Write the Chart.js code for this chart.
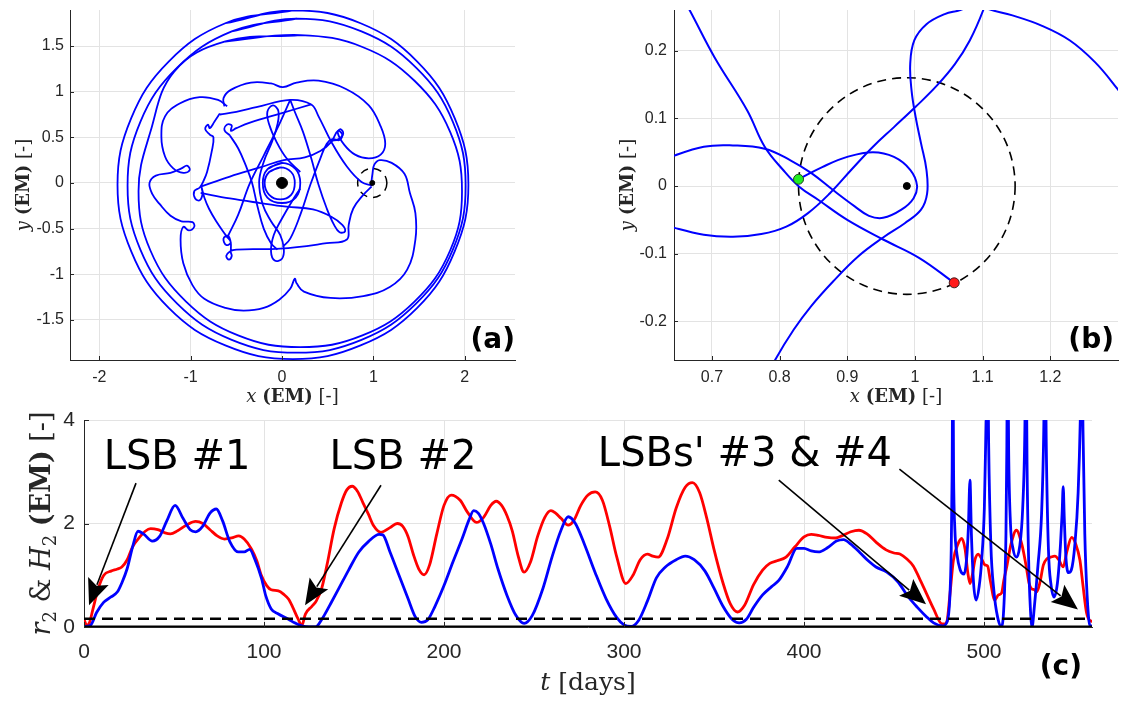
<!DOCTYPE html>
<html>
<head>
<meta charset="utf-8">
<script src="https://cdn.jsdelivr.net/npm/chart.js@4.4.0/dist/chart.umd.min.js"></script>
<style>
  html, body { margin: 0; padding: 0; background: #fff; }
  body { width: 1125px; height: 702px; position: relative; overflow: hidden; }
  canvas { position: absolute; }
  #orbit { left: 0; top: 0; }
  #zoomed { left: 560px; top: 0; }
  #dist { left: 0; top: 400px; }
</style>
</head>
<body>
<canvas id="orbit" width="560" height="410"></canvas>
<canvas id="zoomed" width="565" height="410"></canvas>
<canvas id="dist" width="1125" height="302"></canvas>
<script>
// ---- shared values ----
const moonPos = [0.988, 0];
const earthPos = [0, 0];
const zoneRadius = 0.16;

// ---- (a) trajectory in the Earth-Moon frame, [x, y] ----
const orbitTicksX = [-2, -1, 0, 1, 2];
const orbitTicksY = [-1.5, -1, -0.5, 0, 0.5, 1, 1.5];

const outerLoop1 = [[-0.62, 1.75], [0.12, 1.89], [0.86, 1.75], [1.48, 1.33], [1.89, 0.71], [2.04, -0.02], [1.89, -0.75], [1.48, -1.37], [0.86, -1.78], [0.12, -1.93], [-0.62, -1.78], [-1.24, -1.37], [-1.65, -0.75], [-1.80, -0.02], [-1.65, 0.71], [-1.24, 1.33], [-0.62, 1.75], [0.12, 1.89]];
const outerLoop2 = [[-0.55, 1.66], [0.16, 1.80], [0.87, 1.66], [1.47, 1.26], [1.87, 0.67], [2.01, -0.03], [1.87, -0.73], [1.47, -1.32], [0.87, -1.72], [0.16, -1.86], [-0.55, -1.72], [-1.15, -1.32], [-1.55, -0.73], [-1.69, -0.03], [-1.55, 0.67], [-1.15, 1.26], [-0.55, 1.66], [0.16, 1.80]];
const outerLoop3 = [[-0.62, 1.55], [0.20, 1.62], [0.88, 1.49], [1.45, 1.12], [1.84, 0.56], [1.97, -0.09], [1.84, -0.74], [1.45, -1.30], [0.88, -1.67], [0.20, -1.80], [-0.48, -1.67], [-1.05, -1.30], [-1.44, -0.74], [-1.57, -0.09], [-1.44, 0.56], [-1.18, 1.22], [-0.62, 1.55], [0.20, 1.62]];
const lobePath = [[-0.60, 0.84], [-0.70, 0.91], [-0.90, 0.94], [-1.12, 0.87], [-1.28, 0.73], [-1.32, 0.51], [-1.28, 0.29], [-1.19, 0.16], [-1.08, 0.11], [-1.01, 0.14], [-1.04, 0.19], [-1.10, 0.16], [-1.22, 0.11], [-1.38, 0.08], [-1.45, 0.0], [-1.42, -0.12], [-1.34, -0.23], [-1.22, -0.36], [-1.10, -0.42], [-0.98, -0.43], [-0.96, -0.48], [-1.02, -0.52], [-1.08, -0.48], [-1.11, -0.62], [-1.08, -0.88], [-0.98, -1.12], [-0.85, -1.27], [-0.62, -1.37], [-0.42, -1.40], [-0.20, -1.37], [-0.03, -1.28], [0.09, -1.16], [0.14, -1.05], [0.16, -1.10], [0.24, -1.19], [0.53, -1.26], [0.89, -1.24], [1.18, -1.14], [1.37, -0.95], [1.46, -0.62], [1.46, -0.33], [1.40, -0.11], [1.34, 0.10], [1.20, 0.22], [1.07, 0.25], [1.01, 0.20], [0.99, 0.10], [0.98, 0.02]];
const upperLobe = [[-0.63, 0.84], [-0.64, 0.93], [-0.56, 1.02], [-0.34, 1.10], [-0.12, 1.09], [0.01, 1.05], [0.16, 1.10], [0.40, 1.12], [0.70, 1.03], [0.95, 0.85], [1.08, 0.62], [1.13, 0.43], [1.08, 0.31], [0.95, 0.27], [0.80, 0.31], [0.68, 0.42], [0.61, 0.55], [0.64, 0.59], [0.67, 0.54], [0.62, 0.48], [0.54, 0.46]];
const rimChain = [[-0.68, 0.76], [-0.74, 0.67], [-0.79, 0.60], [-0.81, 0.64], [-0.84, 0.59], [-0.79, 0.53], [-0.75, 0.50], [-0.77, 0.34], [-0.82, 0.12], [-0.86, 0.02], [-0.90, -0.05], [-0.96, -0.09], [-0.95, -0.17], [-0.90, -0.19], [-0.87, -0.12], [-0.88, -0.05], [-0.85, -0.16], [-0.80, -0.28], [-0.72, -0.42], [-0.61, -0.58], [-0.56, -0.65], [-0.61, -0.68], [-0.64, -0.61], [-0.59, -0.58], [-0.56, -0.66], [-0.56, -0.76], [-0.55, -0.80], [-0.58, -0.84], [-0.61, -0.80], [-0.57, -0.75], [-0.50, -0.73], [-0.02, -0.72], [0.49, -0.66], [0.71, -0.62], [0.73, -0.46], [0.78, -0.28], [0.89, -0.13], [0.98, -0.04]];
const topEdge = [[-0.68, 0.75], [-0.50, 0.78], [-0.28, 0.83], [0.09, 0.91], [0.32, 0.86], [0.40, 0.73], [0.54, 0.45], [0.71, 0.18], [0.87, 0.01], [0.99, -0.03]];
const upperChord = [[-0.57, 0.52], [-0.63, 0.58], [-0.60, 0.64], [-0.55, 0.63], [-0.56, 0.57], [-0.50, 0.60], [-0.35, 0.66], [-0.02, 0.76], [0.32, 0.86]];
const crossStrand = [[-0.57, 0.52], [-0.48, 0.38], [-0.40, 0.20], [-0.33, 0.01], [-0.27, -0.25], [-0.20, -0.50], [-0.12, -0.66], [-0.05, -0.73]];
const leftStrand = [[0.09, 0.91], [-0.05, 0.60], [-0.20, 0.30], [-0.35, 0.0], [-0.48, -0.35], [-0.59, -0.58]];
const figureEight = [[0.20, 0.12], [0.05, 0.27], [-0.06, 0.45], [-0.14, 0.64], [-0.16, 0.78], [-0.10, 0.85], [-0.04, 0.79], [-0.05, 0.64], [-0.11, 0.45], [-0.20, 0.23], [-0.25, 0.01], [-0.21, -0.24], [-0.12, -0.42], [-0.02, -0.57], [0.02, -0.72], [0.0, -0.83], [-0.08, -0.85], [-0.12, -0.75], [-0.09, -0.57], [0.0, -0.39], [0.11, -0.20], [0.20, -0.06]];
const upperStrand = [[-0.89, -0.04], [-0.57, 0.07], [-0.24, 0.17], [0.02, 0.25], [0.25, 0.28], [0.42, 0.35], [0.54, 0.45], [0.61, 0.57], [0.66, 0.53], [0.63, 0.47], [0.55, 0.48], [0.49, 0.43], [0.42, 0.27], [0.31, -0.02], [0.20, -0.35], [0.09, -0.61], [0.01, -0.70]];
const lowerStrand = [[-0.89, -0.11], [-0.57, -0.17], [-0.24, -0.22], [0.05, -0.26], [0.34, -0.29], [0.54, -0.37], [0.66, -0.46], [0.69, -0.53], [0.63, -0.54], [0.57, -0.46], [0.49, -0.28], [0.40, -0.02], [0.32, 0.27], [0.23, 0.56], [0.14, 0.78], [0.09, 0.91]];
const earthRing1 = [[-0.14, 0.12], [-0.02, 0.17], [0.10, 0.12], [0.14, 0.0], [0.10, -0.13], [-0.02, -0.18], [-0.14, -0.13], [-0.19, 0.0], [-0.14, 0.12], [-0.02, 0.17]];
const earthRing2 = [[-0.16, 0.15], [0.0, 0.22], [0.15, 0.15], [0.20, 0.0], [0.15, -0.16], [0.0, -0.22], [-0.16, -0.16], [-0.21, 0.0], [-0.16, 0.15], [0.0, 0.22]];

// ---- (b) passage near the Moon, [x, y] ----
const zoomTicksX = [0.7, 0.8, 0.9, 1, 1.1, 1.2];
const zoomTicksY = [-0.2, -0.1, 0, 0.1, 0.2];
const entryPoint = [0.828, 0.010];
const exitPoint = [1.058, -0.143];

const descentArc = [[0.650, 0.290], [0.667, 0.260], [0.704, 0.190], [0.752, 0.112], [0.778, 0.058], [0.805, 0.024], [0.829, -0.001], [0.858, -0.021], [0.900, -0.050], [0.953, -0.079], [1.006, -0.106], [1.058, -0.143]];
const moonLoop = [[0.630, 0.040], [0.688, 0.058], [0.731, 0.060], [0.778, 0.055], [0.816, 0.038], [0.847, 0.019], [0.879, -0.006], [0.911, -0.030], [0.932, -0.044], [0.953, -0.047], [0.980, -0.035], [0.998, -0.018], [1.003, 0.001], [0.993, 0.024], [0.969, 0.043], [0.938, 0.050], [0.900, 0.043], [0.863, 0.028], [0.828, 0.010]];
const lowerArc = [[0.630, -0.058], [0.688, -0.072], [0.731, -0.075], [0.773, -0.071], [0.810, -0.060], [0.842, -0.040], [0.874, -0.011], [0.906, 0.024], [0.938, 0.058], [0.969, 0.087], [1.001, 0.117], [1.033, 0.149], [1.059, 0.180], [1.081, 0.215], [1.101, 0.260], [1.106, 0.280]];
const sCurve = [[0.783, -0.280], [0.794, -0.256], [0.821, -0.212], [0.847, -0.177], [0.879, -0.141], [0.916, -0.104], [0.953, -0.076], [0.985, -0.055], [1.009, -0.035], [1.018, -0.011], [1.017, 0.024], [1.009, 0.063], [1.001, 0.102], [0.995, 0.141], [0.993, 0.180], [0.999, 0.215], [1.017, 0.239], [1.044, 0.254], [1.067, 0.260], [1.090, 0.270]];
const farArc = [[1.080, 0.275], [1.107, 0.262], [1.144, 0.252], [1.187, 0.237], [1.229, 0.215], [1.266, 0.183], [1.298, 0.145], [1.320, 0.115]];

// ---- (c) distance r2 and H2 against time, [t days, value] ----
const timeTicks = [0, 100, 200, 300, 400, 500];
const distTicks = [0, 2, 4];

const r2Series = [[0, 0.01], [3.5, 0.03], [7, 0.28], [11, 0.48], [15, 0.58], [18.6, 0.68], [21, 0.85], [24, 1.13], [27, 1.55], [30, 1.85], [33, 1.80], [38, 1.66], [42, 1.75], [46, 2.05], [50.6, 2.35], [55, 2.10], [59, 1.88], [62, 1.84], [66, 1.95], [70, 2.20], [73.5, 2.28], [77, 2.05], [81, 1.65], [85.7, 1.45], [89, 1.45], [92, 1.50], [95, 1.30], [98.7, 0.93], [101, 0.60], [104, 0.35], [108, 0.25], [113.6, 0.15], [117, 0.08], [121, 0.02], [125, 0.0], [128.5, 0.0], [133, 0.20], [137, 0.45], [141.5, 0.74], [147, 1.10], [152.7, 1.45], [158, 1.65], [164, 1.79], [166, 1.78], [170, 1.45], [175, 1.0], [180, 0.55], [184, 0.20], [187.5, 0.09], [191, 0.14], [195, 0.40], [200, 0.80], [205, 1.26], [210, 1.70], [214, 2.08], [216.5, 2.25], [219, 2.20], [222, 2.0], [226, 1.60], [230, 1.12], [235, 0.61], [240, 0.22], [244.5, 0.07], [249, 0.22], [255, 0.75], [260, 1.35], [265, 1.87], [269, 2.13], [273, 2.0], [278, 1.60], [284, 1.05], [290, 0.55], [296, 0.18], [300, 0.04], [304, 0.01], [308, 0.12], [313, 0.50], [318, 0.95], [323, 1.16], [329, 1.30], [334, 1.37], [339, 1.30], [345, 1.08], [350, 0.75], [355, 0.40], [360, 0.15], [364, 0.08], [368, 0.15], [372, 0.38], [377, 0.62], [382, 0.78], [386, 0.90], [391, 1.18], [396, 1.52], [400, 1.52], [404, 1.47], [408, 1.45], [413, 1.53], [418, 1.66], [422, 1.69], [426, 1.60], [431, 1.44], [436, 1.27], [440, 1.16], [446, 1.06], [452, 0.88], [458, 0.58], [463, 0.38], [468, 0.20], [472, 0.08], [477, 0.02], [479.5, 0.10], [481, 0.55], [481.8, 1.5], [482.3, 3.0], [482.7, 5.5], [483.1, 3.0], [483.8, 1.9], [485, 1.4], [486.8, 1.10], [488.9, 1.02], [490.3, 1.30], [491.3, 1.90], [492.2, 2.84], [493.0, 1.80], [494.2, 0.85], [495.6, 0.52], [497.3, 0.78], [498.7, 1.29], [500.2, 2.3], [501.2, 4.0], [501.9, 6.0], [502.6, 3.5], [503.8, 1.6], [505.5, 0.7], [507.5, 0.2], [509.8, 0.0], [511.3, 0.6], [512.2, 1.8], [512.7, 3.5], [513.1, 6.0], [513.7, 3.4], [514.7, 2.0], [516.2, 1.5], [518, 1.35], [519.8, 1.55], [521.5, 2.3], [522.7, 3.8], [523.3, 6.0], [523.9, 3.2], [524.8, 1.3], [525.7, 0.4], [526.7, 0.0], [528, 0.4], [530, 1.2], [532, 2.2], [533.2, 3.8], [533.9, 6.0], [534.6, 3.5], [535.8, 1.5], [537.3, 0.8], [538.9, 0.58], [540.8, 0.85], [542.5, 1.6], [543.4, 2.2], [544, 2.71], [544.6, 2.1], [545.5, 1.35], [547, 1.05], [548.5, 1.10], [550.5, 1.6], [552.3, 2.6], [553.6, 4.2], [554.3, 6.0], [555, 3.8], [556, 1.8], [557.3, 0.6], [558.9, 0.02], [560.5, 0.02]];
const h2Series = [[0, 0.15], [1.5, 0.03], [3, 0.08], [5, 0.35], [8, 0.75], [11, 1.0], [15, 1.08], [18.6, 1.12], [21, 1.16], [24, 1.30], [27, 1.55], [31, 1.74], [34, 1.85], [37, 1.90], [41, 1.88], [45, 1.82], [48, 1.80], [52, 1.86], [57, 1.97], [62, 2.04], [66, 2.0], [70, 1.88], [74, 1.76], [78, 1.70], [82, 1.72], [86, 1.76], [89, 1.70], [93, 1.51], [96, 1.28], [98.5, 1.0], [101.5, 0.80], [104, 0.72], [108, 0.70], [111, 0.63], [113.6, 0.54], [116, 0.38], [119, 0.15], [121, 0.03], [123, 0.25], [126.6, 0.40], [129, 0.50], [132, 0.74], [135, 1.20], [139, 1.90], [143, 2.40], [146, 2.65], [149, 2.72], [152, 2.62], [155, 2.40], [158, 2.18], [161, 1.95], [165, 1.83], [170, 1.92], [174, 2.0], [177, 1.95], [180, 1.75], [183, 1.40], [186, 1.12], [189, 1.01], [192, 1.20], [196, 1.80], [200, 2.35], [204, 2.55], [209, 2.45], [213, 2.22], [218, 2.02], [222, 2.12], [226, 2.35], [229, 2.43], [232, 2.35], [235, 2.15], [238, 1.85], [241, 1.40], [244.5, 1.06], [248, 1.25], [252, 1.75], [256, 2.12], [259.4, 2.25], [262, 2.20], [265, 2.10], [269, 1.97], [272, 2.05], [276, 2.35], [280, 2.55], [284, 2.61], [288, 2.45], [292, 1.95], [296, 1.35], [301, 0.84], [305, 1.0], [309, 1.30], [313, 1.41], [316, 1.37], [319, 1.35], [324, 1.70], [329, 2.30], [334, 2.70], [338, 2.79], [342, 2.60], [346, 2.10], [350, 1.50], [355, 0.85], [359, 0.45], [363, 0.29], [367, 0.42], [372, 0.82], [377, 1.10], [381, 1.23], [385, 1.28], [390, 1.35], [395, 1.55], [400, 1.74], [404, 1.79], [408, 1.77], [413, 1.73], [417.5, 1.72], [421, 1.76], [426, 1.84], [430.5, 1.87], [435, 1.80], [440, 1.64], [445.6, 1.49], [450, 1.43], [453.3, 1.41], [457, 1.32], [460.7, 1.18], [464, 0.95], [468, 0.65], [472, 0.35], [476.7, 0.06], [478.2, 0.06], [479.5, 0.12], [481, 0.6], [483, 1.29], [485.5, 1.60], [487.6, 1.71], [489.5, 1.50], [491, 1.05], [492.2, 0.84], [493.5, 1.0], [495, 1.30], [496.8, 1.41], [498.5, 1.33], [500.5, 1.20], [502, 1.18], [503.5, 0.90], [506, 0.52], [508, 0.62], [509.8, 0.66], [511, 0.90], [512.6, 1.16], [515, 1.60], [518, 1.87], [521, 1.60], [523.5, 1.16], [525, 0.85], [526.4, 0.74], [528, 0.72], [529.3, 0.68], [531, 0.85], [533, 1.20], [535, 1.32], [537, 1.35], [539.4, 1.37], [541.5, 1.30], [544, 1.16], [546, 1.45], [548.7, 1.73], [551, 1.60], [553.3, 1.29], [555, 0.80], [557, 0.27], [559, 0.12], [560.5, 0.11]];

// captions and arrows, in [t, value]
const noteLabels = ['LSB #1', 'LSB #2', "LSBs' #3 & #4"];
const noteAnchors = [[51.7, 3.06], [177.2, 3.06], [367.2, 3.12]];
const arrowTails = [[28.9, 2.78], [165, 2.74], [386, 2.84], [453, 3.05]];
const arrowTips = [[2.8, 0.42], [122.8, 0.42], [467.8, 0.44], [552.2, 0.34]];

// ---- styling ----
const GRID = '#e3e3e3';
const AXIS = '#262626';
const SANS = '"Liberation Sans", Arial, sans-serif';
const SERIF = '"DejaVu Serif", serif';
const TAG = '"DejaVu Sans", sans-serif';

const toXY = (pairs) => pairs.map(([x, y]) => ({ x, y }));

const trace = (pairs, color, width, extra = {}) => ({
  data: toXY(pairs),
  showLine: true,
  borderColor: color,
  borderWidth: width,
  pointRadius: 0,
  pointHoverRadius: 0,
  tension: 0.4,
  fill: false,
  ...extra,
});

const dot = (pos, r, fill, edge) => ({
  data: toXY([pos]),
  showLine: false,
  pointRadius: r,
  pointHoverRadius: r,
  pointBackgroundColor: fill,
  pointBorderColor: edge,
  pointBorderWidth: 1,
});

function linearAxis(min, max, ticks, band, fontSize, pad) {
  return {
    type: 'linear',
    min,
    max,
    afterBuildTicks: (scale) => { scale.ticks = ticks.map((value) => ({ value })); },
    afterFit: (scale) => {
      if (scale.isHorizontal()) scale.height = band;
      else scale.width = band;
      // no extra room for labels sticking out past the plot box
      scale.paddingTop = 0;
      scale.paddingBottom = 0;
      scale.paddingLeft = 0;
      scale.paddingRight = 0;
    },
    grid: { color: GRID, lineWidth: 1, drawTicks: false },
    border: { color: AXIS, width: 1 },
    ticks: {
      color: AXIS,
      padding: pad,
      autoSkip: false,
      maxRotation: 0,
      font: { family: SANS, size: fontSize },
      callback: (v) => String(v),
    },
  };
}

// a label built from pieces in different fonts, centred on (cx, cy)
function drawRich(ctx, parts, cx, cy, vertical) {
  ctx.save();
  ctx.translate(cx, cy);
  if (vertical) ctx.rotate(-Math.PI / 2);
  ctx.fillStyle = AXIS;
  ctx.textAlign = 'left';
  ctx.textBaseline = 'alphabetic';
  const widths = parts.map((p) => {
    ctx.font = p.font;
    return ctx.measureText(p.text).width;
  });
  let x = -widths.reduce((a, b) => a + b, 0) / 2;
  parts.forEach((p, i) => {
    ctx.font = p.font;
    ctx.fillText(p.text, x, p.shift);
    x += widths[i];
  });
  ctx.restore();
}

// MATLAB-like tick marks pointing into the axes
const innerTicks = {
  id: 'innerTicks',
  afterDatasetsDraw(chart, args, opts) {
    const { ctx, chartArea: a, scales: { x, y } } = chart;
    ctx.save();
    ctx.strokeStyle = AXIS;
    ctx.lineWidth = 1;
    ctx.beginPath();
    x.ticks.forEach((t) => {
      const px = Math.round(x.getPixelForValue(t.value)) + 0.5;
      ctx.moveTo(px, a.bottom);
      ctx.lineTo(px, a.bottom - opts.len);
    });
    y.ticks.forEach((t) => {
      const py = Math.round(y.getPixelForValue(t.value)) + 0.5;
      ctx.moveTo(a.left, py);
      ctx.lineTo(a.left + opts.len, py);
    });
    ctx.stroke();
    ctx.restore();
  },
};

// dashed circle of radius zoneRadius around the Moon
const moonZone = {
  id: 'moonZone',
  beforeDatasetsDraw(chart, args, opts) {
    const { ctx, chartArea: a, scales: { x, y } } = chart;
    const cx = x.getPixelForValue(moonPos[0]);
    const cy = y.getPixelForValue(moonPos[1]);
    const rx = Math.abs(x.getPixelForValue(moonPos[0] + zoneRadius) - cx);
    const ry = Math.abs(y.getPixelForValue(moonPos[1] + zoneRadius) - cy);
    ctx.save();
    ctx.beginPath();
    ctx.rect(a.left, a.top, a.right - a.left, a.bottom - a.top);
    ctx.clip();
    ctx.strokeStyle = '#000';
    ctx.lineWidth = opts.width;
    ctx.setLineDash(opts.dash);
    ctx.beginPath();
    ctx.ellipse(cx, cy, rx, ry, 0, 0, Math.PI * 2);
    ctx.stroke();
    ctx.restore();
  },
};

// axis titles and the panel letter
const frameText = {
  id: 'frameText',
  afterDraw(chart, args, opts) {
    const { ctx, chartArea: a } = chart;
    drawRich(ctx, opts.xTitle, (a.left + a.right) / 2, opts.xTitleY, false);
    drawRich(ctx, opts.yTitle, opts.yTitleX, (a.top + a.bottom) / 2, true);
    ctx.save();
    ctx.fillStyle = '#000';
    ctx.font = `bold 28px ${TAG}`;
    ctx.textAlign = 'right';
    ctx.textBaseline = 'alphabetic';
    ctx.fillText(opts.tag, opts.tagX, opts.tagY);
    ctx.restore();
  },
};

function drawArrow(ctx, x0, y0, x1, y1) {
  const ang = Math.atan2(y1 - y0, x1 - x0);
  const c = Math.cos(ang);
  const s = Math.sin(ang);
  const len = 26;
  const half = 11;
  const bx = x1 - len * c;
  const by = y1 - len * s;
  ctx.beginPath();
  ctx.moveTo(x0, y0);
  ctx.lineTo(bx + 4 * c, by + 4 * s);
  ctx.stroke();
  ctx.beginPath();
  ctx.moveTo(x1, y1);
  ctx.lineTo(bx + half * s, by - half * c);
  ctx.lineTo(bx + 5 * c, by + 5 * s);
  ctx.lineTo(bx - half * s, by + half * c);
  ctx.closePath();
  ctx.fill();
}

// captions with arrows in panel (c)
const lsbNotes = {
  id: 'lsbNotes',
  afterDatasetsDraw(chart) {
    const { ctx, scales: { x, y } } = chart;
    ctx.save();
    ctx.fillStyle = '#000';
    ctx.strokeStyle = '#000';
    ctx.lineWidth = 1.6;
    ctx.font = `40px ${TAG}`;
    ctx.textAlign = 'center';
    ctx.textBaseline = 'alphabetic';
    noteLabels.forEach((label, i) => {
      ctx.fillText(label, x.getPixelForValue(noteAnchors[i][0]), y.getPixelForValue(noteAnchors[i][1]));
    });
    arrowTails.forEach((tail, i) => {
      drawArrow(ctx,
        x.getPixelForValue(tail[0]), y.getPixelForValue(tail[1]),
        x.getPixelForValue(arrowTips[i][0]), y.getPixelForValue(arrowTips[i][1]));
    });
    ctx.restore();
  },
};

const piece = (text, size, style = '', shift = 0) => ({ text, font: `${style} ${size}px ${SERIF}`.trim(), shift });

const emTitle = (axisName, size) => [
  piece(axisName, size, 'italic'),
  piece(' ', size),
  piece('(EM)', size, 'bold'),
  piece(' [-]', size),
];

const baseOptions = {
  responsive: false,
  animation: false,
  devicePixelRatio: 1,
  events: [],
};

// ---- (a) ----
const BLUE = '#0000ff';
const orbitTraces = [outerLoop1, outerLoop2, outerLoop3, lobePath, upperLobe, rimChain, topEdge,
  upperChord, crossStrand, leftStrand, figureEight, upperStrand, lowerStrand, earthRing1, earthRing2];

new Chart(document.getElementById('orbit'), {
  type: 'scatter',
  data: {
    datasets: [
      dot(earthPos, 5.5, '#000', '#000'),
      dot(moonPos, 2.5, '#000', '#000'),
      ...orbitTraces.map((pairs) => trace(pairs, BLUE, 1.8)),
    ],
  },
  options: {
    ...baseOptions,
    layout: { padding: { top: 10, right: 45, left: 0, bottom: 0 } },
    plugins: {
      legend: { display: false },
      tooltip: { enabled: false },
      innerTicks: { len: 4 },
      moonZone: { width: 1.5, dash: [8, 6] },
      frameText: { xTitle: emTitle('x', 18), xTitleY: 402, yTitle: emTitle('y', 18), yTitleX: 29, tag: '(a)', tagX: 515, tagY: 348 },
    },
    scales: {
      x: linearAxis(-2.32, 2.55, orbitTicksX, 50, 16, 8),
      y: linearAxis(-1.94, 1.895, orbitTicksY, 70, 16, 6),
    },
  },
  plugins: [moonZone, innerTicks, frameText],
});

// ---- (b) ----
new Chart(document.getElementById('zoomed'), {
  type: 'scatter',
  data: {
    datasets: [
      dot(entryPoint, 5, '#22ee22', '#1f3d1f'),
      dot(exitPoint, 5, '#ff1a1a', '#3d1f1f'),
      dot(moonPos, 3.5, '#000', '#000'),
      ...[descentArc, moonLoop, lowerArc, sCurve, farArc].map((pairs) => trace(pairs, BLUE, 2)),
    ],
  },
  options: {
    ...baseOptions,
    layout: { padding: { top: 10, right: 7, left: 0, bottom: 0 } },
    plugins: {
      legend: { display: false },
      tooltip: { enabled: false },
      innerTicks: { len: 4 },
      moonZone: { width: 1.6, dash: [9, 6] },
      frameText: { xTitle: emTitle('x', 18), xTitleY: 402, yTitle: emTitle('y', 18), yTitleX: 73, tag: '(b)', tagX: 554, tagY: 348 },
    },
    scales: {
      x: linearAxis(0.644, 1.3, zoomTicksX, 50, 16, 8),
      y: linearAxis(-0.257, 0.26, zoomTicksY, 114, 16, 7),
    },
  },
  plugins: [moonZone, innerTicks, frameText],
});

// ---- (c) ----
const timeSpan = [0, 560];
new Chart(document.getElementById('dist'), {
  type: 'scatter',
  data: {
    datasets: [
      trace(timeSpan.map((t) => [t, 0]), '#000', 3, { tension: 0 }),
      trace(timeSpan.map((t) => [t, zoneRadius]), '#000', 2.5, { tension: 0, borderDash: [11, 7] }),
      trace(r2Series, BLUE, 2.8, { cubicInterpolationMode: 'monotone' }),
      trace(h2Series, '#ff0000', 2.8, { cubicInterpolationMode: 'monotone' }),
    ],
  },
  options: {
    ...baseOptions,
    layout: { padding: { top: 20, right: 33, left: 0, bottom: 0 } },
    plugins: {
      legend: { display: false },
      tooltip: { enabled: false },
      innerTicks: { len: 5 },
      frameText: {
        xTitle: [piece('t', 25, 'italic'), piece(' [days]', 25)],
        xTitleY: 290,
        yTitle: [
          piece('r', 27, 'italic'),
          piece('2', 18, '', 6),
          piece(' & ', 27),
          piece('H', 27, 'italic'),
          piece('2', 18, '', 6),
          piece(' ', 27),
          piece('(EM)', 27, 'bold'),
          piece(' [-]', 27),
        ],
        yTitleX: 50,
        tag: '(c)',
        tagX: 1082,
        tagY: 275,
      },
    },
    scales: {
      x: linearAxis(0, 560, timeTicks, 75, 21, 13),
      y: linearAxis(0, 4, distTicks, 84, 21, 9),
    },
  },
  plugins: [innerTicks, lsbNotes, frameText],
});
</script>
</body>
</html>
